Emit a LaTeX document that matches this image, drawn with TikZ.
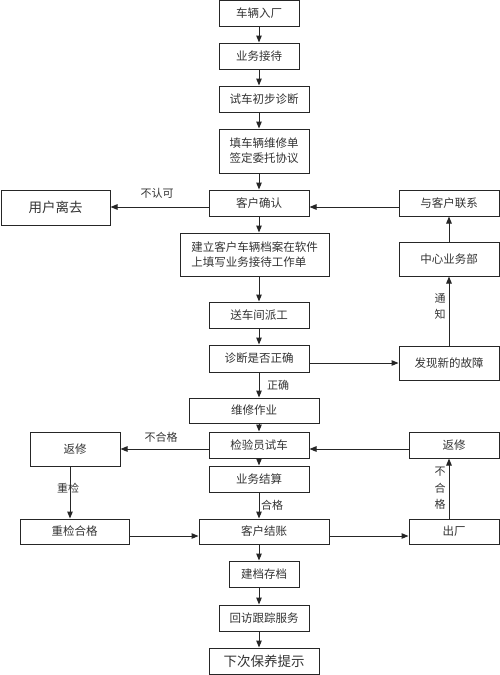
\documentclass[tikz,border=0pt]{standalone}
\usepackage{fontspec}
\setmainfont{Noto Sans CJK SC}
\usetikzlibrary{arrows.meta}
\begin{document}
\begin{tikzpicture}[x=1pt,y=-1pt,
  box/.style={draw=black!85,line width=1pt,inner sep=0pt,align=center,font=\fontsize{11.5}{15}\selectfont,text=black!80},
  bigbox/.style={box,font=\fontsize{13.5}{16}\selectfont},
  arr/.style={line width=1pt,draw=black!85,-{Triangle[length=7pt,width=5.5pt]}},
  lbl/.style={font=\fontsize{11}{13}\selectfont,text=black!80,inner sep=0pt}]
\useasboundingbox (0,0) rectangle (500,675);
\fill[white] (0,0) rectangle (500,675);
\newcommand{\bx}[7][box]{\node[#1,minimum width=#5pt,minimum height=#6pt] (#2) at (#3,#4) {#7};}
\bx{n1}{259}{13.5}{80}{26}{车辆入厂}
\bx{n2}{259}{56}{80}{26}{业务接待}
\bx{n3}{264}{99}{90}{26}{试车初步诊断}
\bx{n4}{264}{151}{90}{44}{填车辆维修单\\签定委托协议}
\bx{n5}{259}{203}{100}{26}{客户确认}
\bx[bigbox]{leave}{55.5}{207.5}{109}{35}{用户离去}
\bx{contact}{449}{203}{100}{26}{与客户联系}
\bx[box,align=left]{n6}{254.5}{254.5}{149}{43}{建立客户车辆档案在软件\\上填写业务接待工作单}
\bx{center}{449}{259}{100}{34}{中心业务部}
\bx{n7}{259}{315}{100}{26}{送车间派工}
\bx{n8}{259}{358.5}{100}{27}{诊断是否正确}
\bx{fault}{449}{363}{100}{34}{发现新的故障}
\bx{n9}{254}{410.5}{130}{25}{维修作业}
\bx{n10}{259}{445}{100}{26}{检验员试车}
\bx{rwL}{75}{449}{90}{34}{返修}
\bx{rwR}{454}{445}{90}{26}{返修}
\bx{n11}{259}{479}{100}{26}{业务结算}
\bx{recheck}{74.5}{531.5}{109}{25}{重检合格}
\bx{n12}{264}{531.5}{130}{25}{客户结账}
\bx{out}{454}{531.5}{90}{25}{出厂}
\bx{n13}{264}{574}{70}{26}{建档存档}
\bx{n14}{264}{618}{90}{26}{回访跟踪服务}
\bx[bigbox]{n15}{264}{661}{110}{26}{下次保养提示}
\coordinate (X) at (259,0);
\coordinate (XR) at (449,0);
\coordinate (XL) at (70,0);
\coordinate (Y1) at (0,207);
\coordinate (Y2) at (0,363);
\coordinate (Y3) at (0,449);
\coordinate (Y4) at (0,536);
% main column
\foreach \a/\b in {n1/n2,n2/n3,n3/n4,n4/n5,n5/n6,n6/n7,n7/n8,n8/n9,n9/n10,n10/n11,n11/n12,n12/n13,n13/n14,n14/n15}
  \draw[arr] (\a.south -| X) -- (\b.north -| X);
% horizontals
\draw[arr] (n5.west |- Y1) -- (leave.east |- Y1);
\draw[arr] (contact.west |- Y1) -- (n5.east |- Y1);
\draw[arr] (n8.east |- Y2) -- (fault.west |- Y2);
\draw[arr] (n10.west |- Y3) -- (rwL.east |- Y3);
\draw[arr] (rwR.west |- Y3) -- (n10.east |- Y3);
\draw[arr] (recheck.east |- Y4) -- (n12.west |- Y4);
\draw[arr] (n12.east |- Y4) -- (out.west |- Y4);
% verticals right/left
\draw[arr] (fault.north -| XR) -- (center.south -| XR);
\draw[arr] (center.north -| XR) -- (contact.south -| XR);
\draw[arr] (out.north -| XR) -- (rwR.south -| XR);
\draw[arr] (rwL.south -| XL) -- (recheck.north -| XL);
% labels
\node[lbl] (l1) at (157,193) {不认可};
\node[lbl,align=center] (l2) at (440,306.5) {通\\[3pt]知};
\node[lbl] (l3) at (278,385) {正确};
\node[lbl] (l4) at (161,437) {不合格};
\node[lbl] (l5) at (68,488) {重检};
\node[lbl] (l6) at (272,505) {合格};
\node[lbl,align=center,font=\fontsize{11}{16.5}\selectfont] (l7) at (440,488.5) {不\\合\\格};
\end{tikzpicture}
\end{document}
